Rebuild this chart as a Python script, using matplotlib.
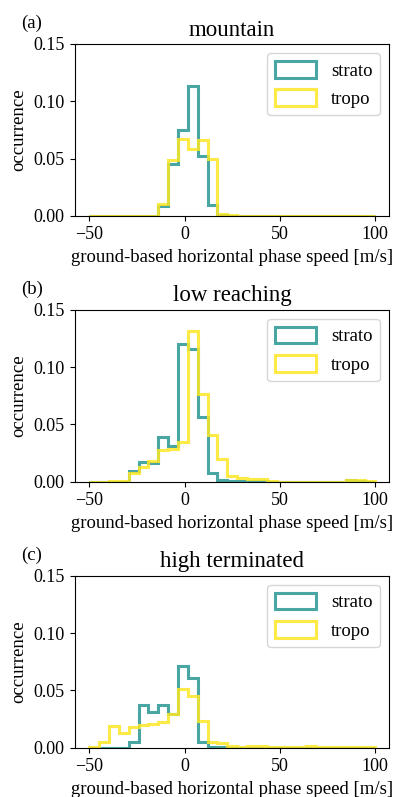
import numpy as np
import matplotlib
matplotlib.use("Agg")
import matplotlib.pyplot as plt

plt.rcParams['font.family'] = ['Liberation Serif', 'DejaVu Serif']
plt.rcParams['mathtext.fontset'] = 'stix'

# histogram bins (29 bins between -50 and 100 m/s)
edges = np.linspace(-50, 100, 30)

titles = ["mountain", "low reaching", "high terminated"]
panel_labels = ["(a)", "(b)", "(c)"]

# occurrence per bin
strato_mountain = [0, 0, 0, 0, 0, 0, 0, 0.0087, 0.0457, 0.0747, 0.113, 0.052, 0.0093,
                   0.001, 0, 0, 0, 0, 0, 0, 0, 0, 0, 0, 0, 0, 0, 0, 0]
tropo_mountain = [0, 0, 0, 0, 0, 0, 0.0003, 0.0108, 0.0486, 0.0669, 0.0588, 0.066, 0.050,
                  0.0015, 0.0005, 0, 0, 0, 0, 0, 0, 0, 0, 0, 0, 0, 0, 0, 0]

strato_low = [0, 0, 0, 0, 0.0096, 0.017, 0.016, 0.039, 0.0315, 0.120, 0.116, 0.0563, 0.0079,
              0.0015, 0.001, 0.001, 0.0005, 0.0005, 0, 0, 0, 0, 0, 0, 0, 0, 0.0012, 0.0005, 0]
tropo_low = [0, 0, 0.0004, 0.0004, 0.0079, 0.013, 0.018, 0.0277, 0.0283, 0.035, 0.1317, 0.0763,
             0.0408, 0.0196, 0.0052, 0.0035, 0.0023, 0.0023, 0.0005, 0, 0, 0, 0, 0, 0, 0,
             0.0012, 0.0012, 0.001]

strato_high = [0, 0, 0, 0, 0.0052, 0.037, 0.031, 0.037, 0.029, 0.071, 0.061, 0.0052, 0.001,
               0.0005, 0, 0, 0, 0, 0, 0, 0, 0, 0, 0, 0, 0, 0, 0, 0]
tropo_high = [0.0009, 0.0047, 0.019, 0.0125, 0.0177, 0.020, 0.021, 0.022, 0.029, 0.051, 0.0449,
              0.0235, 0.0052, 0.0044, 0.0017, 0.0005, 0.0017, 0.0017, 0.0005, 0.0005, 0.0005,
              0.0005, 0.0014, 0.0003, 0.0003, 0.0003, 0.0003, 0.0003, 0.0003]

strato = [strato_mountain, strato_low, strato_high]
tropo = [tropo_mountain, tropo_low, tropo_high]

teal = '#2a9792'
yellow = '#fde725'

fig = plt.figure(figsize=(3.93, 7.97), dpi=100)
bottoms = [0.729, 0.3956, 0.0619]

centers = 0.5 * (edges[:-1] + edges[1:])
for i in range(3):
    ax = fig.add_axes([0.1908, bottoms[i], 0.800, 0.2158])
    ax.hist(centers, bins=edges, weights=strato[i], histtype='step', color=teal,
            linewidth=2.2, alpha=0.85, label='strato')
    ax.hist(centers, bins=edges, weights=tropo[i], histtype='step', color=yellow,
            linewidth=2.2, alpha=0.85, label='tropo')
    ax.set_ylim(0, 0.15)
    ax.set_yticks([0, 0.05, 0.10, 0.15])
    ax.set_xticks([-50, 0, 50, 100])
    ax.tick_params(labelsize=13, pad=4)
    ax.set_title(titles[i], fontsize=16.5, pad=6)
    ax.set_ylabel("occurrence", fontsize=13.5, labelpad=4)
    ax.set_xlabel("ground-based horizontal phase speed [m/s]", fontsize=13.5, labelpad=4)
    ax.text(-0.137, 1.12, panel_labels[i], transform=ax.transAxes, fontsize=13.5,
            ha='center', va='center')
    ax.legend(loc='upper right', fontsize=13.5, handleheight=1.0, handlelength=2.2)

fig.savefig("out.png", dpi=100)
